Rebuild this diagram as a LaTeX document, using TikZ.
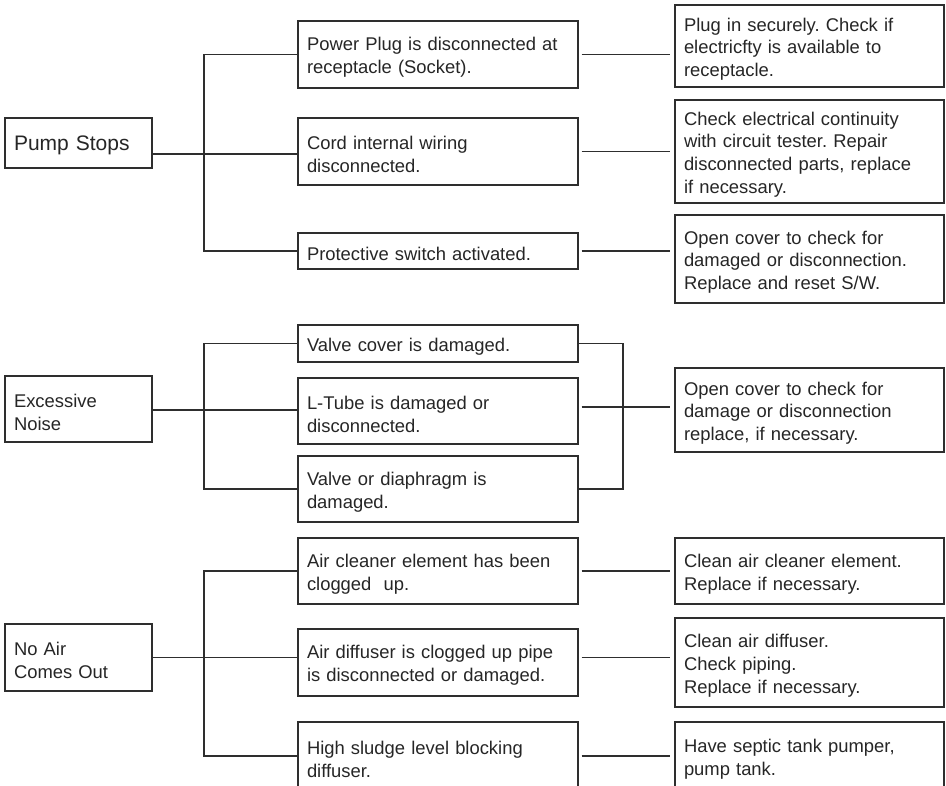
\documentclass[tikz,border=0pt]{standalone}
\usepackage{fontspec}
\setmainfont{Liberation Sans}
\definecolor{linec}{HTML}{2E2E2E}
\definecolor{textc}{HTML}{262626}
\frenchspacing
\begin{document}
\begin{tikzpicture}[x=1pt,y=-1pt,
  box/.style={draw=linec, line width=1.1pt, rectangle, inner xsep=9pt, inner ysep=0pt,
    align=left, text=textc, font=\fontsize{18.4}{22.7}\selectfont,
    execute at begin node={\rule{0pt}{19.5pt}}},
  lft/.style={minimum width=147pt, text width=129pt},
  mid/.style={minimum width=280pt, text width=262pt},
  rgt/.style={minimum width=269pt, text width=251pt},
  wire/.style={draw=linec, line width=1.1pt},
  gap/.style={shorten <=3pt, shorten >=4pt}]
\useasboundingbox (0,0) rectangle (946,786);
\clip (0,0) rectangle (946,786);
\fill[white] (0,0) rectangle (946,786);

% ---------- Section 1: Pump Stops ----------
\node[box, lft, minimum height=50pt, font=\fontsize{21}{25}\selectfont] (ps) at (78.5,143) {Pump Stops};
\node[box, mid, minimum height=67pt] (m1) at (438,54.5) {Power Plug is disconnected at\\receptacle (Socket).};
\node[box, mid, minimum height=67pt] (m2) at (438,151.5) {Cord internal wiring\\disconnected.};
\node[box, mid, minimum height=36pt] (m3) at (438,251) {Protective switch activated.};
\node[box, rgt, minimum height=82pt] (r1) at (809.5,46) {Plug in securely. Check if\\electricfty is available to\\receptacle.};
\node[box, rgt, minimum height=103pt] (r2) at (809.5,151.5) {Check electrical continuity\\with circuit tester. Repair\\disconnected parts, replace\\if necessary.};
\node[box, rgt, minimum height=88pt] (r3) at (809.5,259) {Open cover to check for\\damaged or disconnection.\\Replace and reset S/W.};

\coordinate (t1) at (204,154);
\draw[wire] (ps.east |- t1) -- (m2.west |- t1);
\draw[wire] (m1.west) -- (m1.west -| t1) -- (m3.west -| t1) -- (m3.west);
\draw[wire, gap] (m1.east) -- (m1.east -| r1.west);
\draw[wire, gap] (m2.east) -- (m2.east -| r2.west);
\draw[wire, gap] (m3.east) -- (m3.east -| r3.west);

% ---------- Section 2: Excessive Noise ----------
\node[box, lft, minimum height=66pt] (en) at (78.5,409) {Excessive\\Noise};
\node[box, mid, minimum height=37pt] (n1) at (438,343.5) {Valve cover is damaged.};
\node[box, mid, minimum height=66pt] (n2) at (438,411) {L-Tube is damaged or\\disconnected.};
\node[box, mid, minimum height=66pt] (n3) at (438,489) {Valve or diaphragm is\\damaged.};
\node[box, rgt, minimum height=84pt] (r4) at (809.5,410) {Open cover to check for\\damage or disconnection\\replace, if necessary.};

\coordinate (t2) at (204,410);
\coordinate (k2) at (623,407);
\draw[wire] (en.east |- t2) -- (n2.west |- t2);
\draw[wire] (n1.west) -- (n1.west -| t2) -- (n3.west -| t2) -- (n3.west);
\draw[wire] (n1.east) -- (n1.east -| k2) -- (n3.east -| k2) -- (n3.east);
\draw[wire, gap] (n2.east |- k2) -- (r4.west |- k2);

% ---------- Section 3: No Air Comes Out ----------
\node[box, lft, minimum height=67pt] (na) at (78.5,657.5) {No Air\\Comes Out};
\node[box, mid, minimum height=66pt] (a1) at (438,571) {Air cleaner element has been\\clogged~~up.};
\node[box, mid, minimum height=67pt] (a2) at (438,662.5) {Air diffuser is clogged up pipe\\is disconnected or damaged.};
\node[box, mid, minimum height=68pt] (a3) at (438,756) {High sludge level blocking\\diffuser.};
\node[box, rgt, minimum height=66pt] (b1) at (809.5,571) {Clean air cleaner element.\\Replace if necessary.};
\node[box, rgt, minimum height=89pt] (b2) at (809.5,662.5) {Clean air diffuser.\\Check piping.\\Replace if necessary.};
\node[box, rgt, minimum height=68pt] (b3) at (809.5,756) {Have septic tank pumper,\\pump tank.};

\coordinate (t3) at (204,657.5);
\draw[wire] (na.east |- t3) -- (a2.west |- t3);
\draw[wire] (a1.west) -- (a1.west -| t3) -- (a3.west -| t3) -- (a3.west);
\draw[wire, gap] (a1.east) -- (a1.east -| b1.west);
\draw[wire, gap] (a2.east |- t3) -- (b2.west |- t3);
\draw[wire, gap] (a3.east) -- (a3.east -| b3.west);
\end{tikzpicture}
\end{document}
